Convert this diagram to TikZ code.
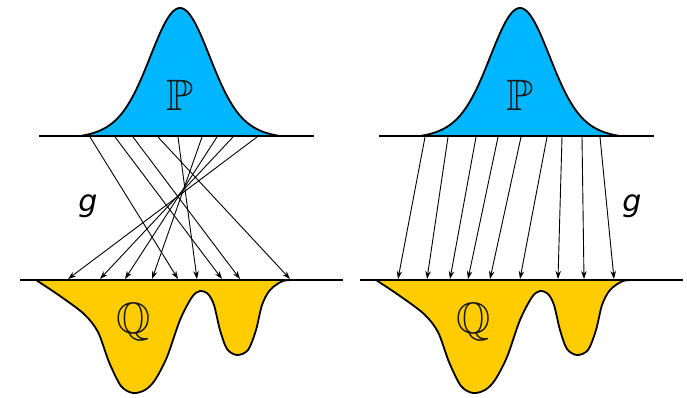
\documentclass[tikz,border=0pt]{standalone}
\usepackage{amssymb}
\usepackage{fontspec}
\newfontfamily\mapfont{DejaVu Sans}
\usetikzlibrary{arrows.meta}
\definecolor{pblue}{RGB}{0,183,255}
\definecolor{qyellow}{RGB}{255,204,0}

\begin{document}
\begin{tikzpicture}[x=1pt, y=-1pt,
    axis/.style={line width=1.7pt},
    density/.style={draw, line width=1.8pt, line join=round},
    arr/.style={-{Stealth[length=8pt,width=5.5pt]}, line width=0.9pt},
    letter/.style={font=\fontsize{44}{44}\selectfont, text=black!90},
    maplabel/.style={font=\fontsize{30}{30}\selectfont\mapfont\itshape}
  ]
  \useasboundingbox (0,0) rectangle (687,397);
  % the two measures, same shapes in both panels
  \foreach \dx/\side in {0/L,340/R} {
    \begin{scope}[xshift=\dx pt]
      \filldraw[density, fill=qyellow] plot[smooth, tension=0.5] coordinates {
          (36,280) (60,296) (84,314) (98,332) (109,362) (121,386) (133,393)
          (145,390) (155,380) (167,357) (180,320) (192,297) (200,291) (208,294)
          (214,305) (220,330) (227,349) (237,355) (248,350) (256,330) (262,305)
          (270,290) (283,281) (298,280)} -- cycle;
      \filldraw[density, fill=pblue] plot[domain=-100:100, samples=90]
        ({\x+180}, {136-128*(0.75*exp(-\x*\x/1568)+0.25*exp(-\x*\x/4050)-0.0224)/0.9776}) -- cycle;
      \draw[axis] (39,136) -- (314,136);
      \draw[axis] (20,280) -- (343,280);
      \node[letter] (p\side) at (180,95) {$\mathbb{P}$};
      \node[letter] (q\side) at (134,322) {$\mathbb{Q}$};
    \end{scope}
  }
  \node[maplabel] (gL) at (88,206) {g};
  \node[maplabel] (gR) at (632,206) {g};
  % left: a crossing map
  \foreach \a/\b [count=\i] in {90/178,115/222,133/240,158/290,178/197,202/152,217/125,233/100,257/68} {
    \coordinate (sL\i) at (\a,137);
    \coordinate (tL\i) at (\b,279);
    \draw[arr] (sL\i) -- (tL\i);
  }
  % right: a monotone map
  \foreach \a/\b [count=\i] in {425/398,448/427,476/450,498/468,521/490,547/520,562/558,582/584,600/614} {
    \coordinate (sR\i) at (\a,137);
    \coordinate (tR\i) at (\b,279);
    \draw[arr] (sR\i) -- (tR\i);
  }
\end{tikzpicture}
\end{document}
